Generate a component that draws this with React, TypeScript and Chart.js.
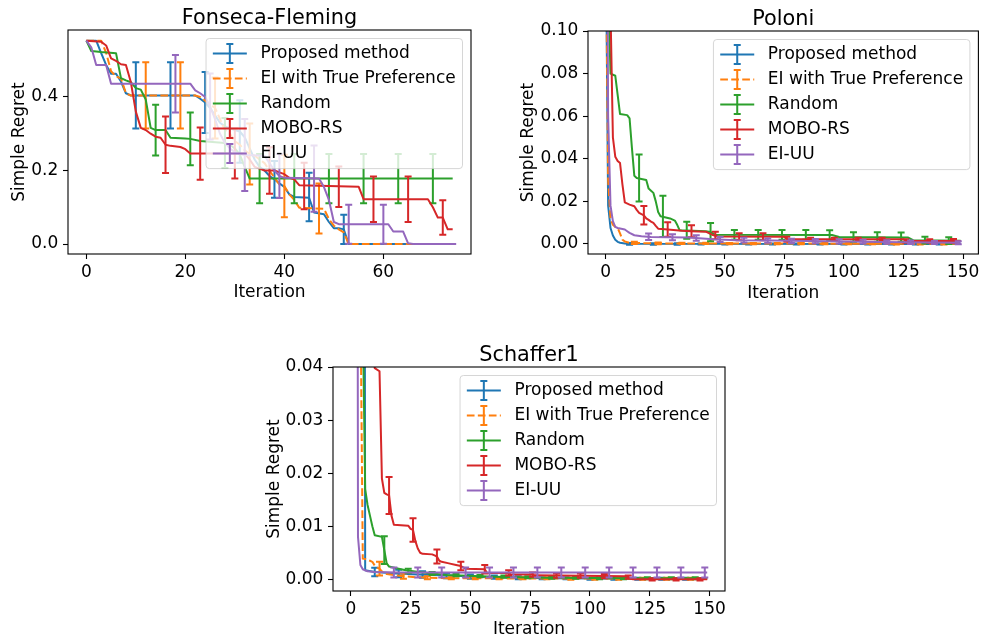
import React, { useEffect, useRef } from "react";
import { Chart, registerables } from "chart.js";

Chart.register(...registerables);

type Pt = [number, number];
type Eb = [number, number, number];

// ---------------- shared ----------------
const SERIES_NAMES = ["Proposed method", "EI with True Preference", "Random", "MOBO-RS", "EI-UU"];
const SERIES_COLORS = ["#1f77b4", "#ff7f0e", "#2ca02c", "#d62728", "#9467bd"];
const SERIES_DASHED = [false, true, false, false, false];
const X_LABEL = "Iteration";
const Y_LABEL = "Simple Regret";

// ---------------- Fonseca-Fleming ----------------
const FF_TITLE = "Fonseca-Fleming";
const FF_X_TICKS = [0, 20, 40, 60];
const FF_Y_TICKS = [0, 0.2, 0.4];
const FF_PROPOSED: Pt[] = [[0,0.553],[2,0.553],[3,0.519],[4,0.487],[5,0.463],[6,0.463],[7,0.442],[8,0.41],[9,0.404],[22,0.404],[23,0.395],[24,0.385],[25,0.37],[26,0.35],[27,0.33],[28,0.32],[30,0.31],[31,0.306],[32,0.29],[33,0.26],[34,0.23],[35,0.21],[36,0.2],[37,0.185],[38,0.176],[39,0.165],[40,0.155],[41,0.135],[42,0.128],[45,0.126],[46,0.086],[48,0.081],[49,0.06],[50,0.043],[51,0.043],[52,0.04],[53,0],[74,0]];
const FF_EI_TRUE: Pt[] = [[0,0.553],[3,0.553],[4,0.52],[5,0.47],[6,0.456],[7,0.45],[8,0.41],[9,0.404],[22,0.404],[23,0.4],[24,0.39],[25,0.38],[26,0.37],[27,0.34],[28,0.31],[29,0.3],[30,0.28],[31,0.27],[32,0.255],[33,0.245],[34,0.24],[35,0.23],[36,0.22],[37,0.2],[38,0.18],[39,0.162],[40,0.158],[41,0.135],[42,0.12],[43,0.099],[48,0.096],[49,0.068],[50,0.05],[51,0.04],[52,0.032],[53,0],[74,0]];
const FF_RANDOM: Pt[] = [[0,0.553],[1,0.525],[3,0.522],[6,0.519],[7,0.451],[8,0.445],[9,0.44],[10,0.424],[11,0.42],[12,0.393],[13,0.316],[14,0.31],[16,0.31],[17,0.289],[20,0.287],[21,0.286],[23,0.28],[28,0.275],[29,0.27],[30,0.26],[31,0.243],[32,0.21],[33,0.178],[74,0.178]];
const FF_MOBO: Pt[] = [[0,0.553],[3,0.55],[4,0.54],[5,0.505],[6,0.498],[7,0.489],[8,0.487],[9,0.44],[10,0.36],[11,0.316],[12,0.31],[13,0.3],[14,0.292],[15,0.289],[16,0.27],[17,0.267],[19,0.264],[20,0.258],[21,0.246],[32,0.246],[33,0.23],[34,0.21],[35,0.205],[36,0.2],[38,0.2],[39,0.195],[40,0.19],[41,0.18],[42,0.176],[43,0.16],[55,0.156],[56,0.122],[69,0.122],[70,0.1],[71,0.072],[72,0.072],[73,0.04],[74,0.04]];
const FF_EIUU: Pt[] = [[0,0.553],[1,0.535],[2,0.487],[4,0.487],[5,0.436],[21,0.436],[22,0.418],[23,0.41],[24,0.4],[25,0.374],[26,0.34],[27,0.3],[28,0.275],[29,0.26],[30,0.25],[31,0.245],[32,0.242],[36,0.24],[37,0.22],[38,0.2],[39,0.185],[40,0.18],[47,0.178],[48,0.155],[49,0.12],[50,0.06],[51,0.054],[61,0.054],[62,0.034],[64,0.034],[65,0.002],[66,0],[74,0]];
const FF_ERR_PROPOSED: Eb[] = [[10,0.404,0.09],[17,0.404,0.09],[24,0.385,0.083],[31,0.306,0.085],[38,0.176,0.05],[45,0.128,0.066],[52,0.04,0.04],[59,0,0],[66,0,0],[73,0,0]];
const FF_ERR_EI_TRUE: Eb[] = [[12,0.404,0.09],[19,0.404,0.09],[26,0.37,0.083],[33,0.245,0.083],[40,0.158,0.085],[47,0.097,0.068],[54,0,0],[61,0,0],[68,0,0]];
const FF_ERR_RANDOM: Eb[] = [[14,0.31,0.069],[21,0.286,0.072],[28,0.275,0.068],[35,0.178,0.067],[42,0.178,0.067],[49,0.178,0.067],[56,0.178,0.067],[63,0.178,0.067],[70,0.178,0.067]];
const FF_ERR_MOBO: Eb[] = [[16,0.27,0.077],[23,0.246,0.071],[30,0.246,0.068],[37,0.2,0.063],[44,0.158,0.063],[51,0.156,0.055],[58,0.122,0.062],[65,0.122,0.062],[72,0.072,0.047]];
const FF_ERR_EIUU: Eb[] = [[18,0.436,0.078],[25,0.374,0.09],[32,0.242,0.098],[39,0.185,0.06],[46,0.178,0.09],[53,0.054,0.053],[60,0.054,0.053],[67,0,0],[74,0,0]];

// ---------------- Poloni ----------------
const PO_TITLE = "Poloni";
const PO_X_TICKS = [0, 25, 50, 75, 100, 125, 150];
const PO_Y_TICKS = [0, 0.02, 0.04, 0.06, 0.08, 0.1];
const PO_PROPOSED: Pt[] = [[0,0.15],[1,0.018],[2,0.0075],[3,0.004],[4,0.002],[5,0.001],[6,0.0006],[8,0.0002],[10,0.0001],[149,0]];
const PO_EI_TRUE: Pt[] = [[0,0.15],[1,0.03],[2,0.012],[3,0.009],[4,0.008],[5,0.0075],[6,0.005],[7,0.002],[8,0.0012],[10,0.0005],[20,0.0003],[60,0.0002],[149,0.0001]];
const PO_RANDOM: Pt[] = [[0,0.3],[1,0.12],[2,0.08],[4,0.079],[5,0.07],[6,0.061],[9,0.0605],[10,0.059],[11,0.045],[12,0.032],[13,0.031],[17,0.03],[18,0.026],[19,0.025],[20,0.024],[21,0.02],[22,0.015],[23,0.013],[27,0.012],[29,0.011],[30,0.009],[31,0.0065],[42,0.006],[44,0.0056],[46,0.0043],[95,0.0042],[98,0.0033],[127,0.003],[129,0.0018],[149,0.0015]];
const PO_MOBO: Pt[] = [[0,0.4],[1,0.2],[2,0.11],[3,0.05],[4,0.041],[5,0.039],[6,0.038],[7,0.028],[8,0.0195],[10,0.0185],[12,0.0177],[13,0.016],[14,0.0146],[15,0.014],[16,0.0135],[17,0.012],[18,0.0113],[19,0.0105],[20,0.0099],[21,0.0085],[22,0.0072],[26,0.0068],[32,0.0062],[36,0.006],[42,0.0058],[45,0.0042],[47,0.0035],[75,0.0034],[76,0.0022],[125,0.0022],[126,0.0014],[149,0.0014]];
const PO_EIUU: Pt[] = [[0,0.3],[1,0.06],[2,0.018],[3,0.0107],[4,0.008],[5,0.0075],[8,0.0068],[9,0.006],[10,0.0052],[12,0.0041],[15,0.0036],[19,0.0033],[26,0.0032],[35,0.003],[45,0.0022],[55,0.0018],[70,0.0016],[100,0.0012],[125,0.0008],[149,0.0006]];
const PO_ERR_PROPOSED: Eb[] = [[10,0.0001,0.0004],[20,0,0.0003],[30,0,0.0003],[40,0,0.0002],[50,0,0.0002],[60,0,0.0002],[70,0,0.0002],[80,0,0.0002],[90,0,0.0002],[100,0,0.0002],[110,0,0.0002],[120,0,0.0002],[130,0,0.0002],[140,0,0.0002]];
const PO_ERR_EI_TRUE: Eb[] = [[12,0.0005,0.0005],[22,0.0003,0.0004],[32,0.0003,0.0003],[42,0.0003,0.0003],[52,0.0002,0.0003],[62,0.0002,0.0003],[72,0.0002,0.0003],[82,0.0002,0.0003],[92,0.0002,0.0003],[102,0.0002,0.0003],[112,0.0002,0.0003],[122,0.0001,0.0003],[132,0.0001,0.0003],[142,0.0001,0.0003]];
const PO_ERR_RANDOM: Eb[] = [[14,0.031,0.011],[24,0.013,0.0097],[34,0.0065,0.004],[44,0.0056,0.0043],[54,0.0043,0.0023],[64,0.0043,0.0023],[74,0.0043,0.0023],[84,0.0043,0.0023],[94,0.0042,0.0023],[104,0.0033,0.0022],[114,0.0033,0.0022],[124,0.0032,0.0022],[134,0.0018,0.0016],[144,0.0016,0.0016]];
const PO_ERR_MOBO: Eb[] = [[16,0.0135,0.0043],[26,0.0068,0.0034],[36,0.006,0.0028],[46,0.004,0.0018],[56,0.0034,0.0016],[66,0.0034,0.0016],[76,0.0022,0.0012],[86,0.0022,0.0007],[96,0.0022,0.0007],[106,0.0022,0.0007],[116,0.0022,0.0007],[126,0.0014,0.0008],[136,0.0014,0.0008],[146,0.0014,0.0009]];
const PO_ERR_EIUU: Eb[] = [[18,0.0034,0.0015],[28,0.0032,0.0014],[38,0.0028,0.0013],[48,0.0021,0.0012],[58,0.0018,0.0011],[68,0.0016,0.001],[78,0.0015,0.001],[88,0.0014,0.001],[98,0.0012,0.001],[108,0.0011,0.0009],[118,0.0009,0.0008],[128,0.0008,0.0008],[138,0.0007,0.0007],[148,0.0006,0.0007]];

// ---------------- Schaffer1 ----------------
const SC_TITLE = "Schaffer1";
const SC_X_TICKS = [0, 25, 50, 75, 100, 125, 150];
const SC_Y_TICKS = [0, 0.01, 0.02, 0.03, 0.04];
const SC_PROPOSED: Pt[] = [[0,0.5],[5,0.35],[6,0.0017],[10,0.0014],[19,0.0011],[28,0.0009],[40,0.0007],[60,0.0004],[83,0.0002],[120,0.0001],[149,0.0001]];
const SC_EI_TRUE: Pt[] = [[0,0.5],[3,0.3],[4,0.055],[5,0.0039],[7,0.0037],[8,0.0035],[9,0.0033],[10,0.0026],[11,0.0022],[12,0.002],[13,0.0015],[15,0.001],[19,0.00075],[27,0.0004],[40,0.0002],[149,0.0001]];
const SC_RANDOM: Pt[] = [[0,0.5],[4,0.3],[5,0.05],[6,0.017],[7,0.014],[8,0.012],[9,0.01],[10,0.0083],[13,0.008],[14,0.0055],[15,0.003],[16,0.0024],[20,0.002],[23,0.0017],[30,0.0013],[40,0.0008],[60,0.0005],[80,0.0003],[120,0.0002],[149,0.0002]];
const SC_MOBO: Pt[] = [[0,0.5],[8,0.06],[9,0.045],[10,0.0398],[12,0.0392],[13,0.019],[14,0.0163],[15,0.016],[16,0.0158],[17,0.012],[18,0.0103],[24,0.0101],[25,0.0095],[26,0.0093],[27,0.0072],[28,0.0058],[29,0.005],[30,0.0048],[34,0.0047],[35,0.0045],[36,0.0043],[37,0.0035],[38,0.0033],[41,0.003],[44,0.0027],[46,0.0025],[48,0.002],[56,0.0019],[57,0.0012],[66,0.0012],[67,0.0009],[76,0.0009],[77,0.00075],[115,0.0006],[117,0.0002],[118,0],[149,0]];
const SC_EIUU: Pt[] = [[0,0.5],[2,0.35],[3,0.008],[4,0.0027],[5,0.0019],[7,0.0015],[10,0.0014],[20,0.0013],[149,0.0013]];
const SC_ERR_PROPOSED: Eb[] = [[10,0.0014,0.0008],[20,0.0011,0.0007],[30,0.0009,0.0006],[40,0.0007,0.0005],[50,0.0005,0.0004],[60,0.0004,0.0003],[70,0.0003,0.0003],[80,0.0002,0.0002],[90,0.0002,0.0002],[100,0.0001,0.0002],[110,0.0001,0.0002],[120,0.0001,0.0002],[130,0.0001,0.0002],[140,0.0001,0.0002]];
const SC_ERR_EI_TRUE: Eb[] = [[12,0.002,0.0013],[22,0.0006,0.0005],[32,0.0003,0.0003],[42,0.0002,0.0002],[52,0.0002,0.0002],[62,0.0002,0.0002],[72,0.0002,0.0002],[82,0.0002,0.0002],[92,0.0001,0.0002],[102,0.0001,0.0002],[112,0.0001,0.0002],[122,0.0001,0.0002],[132,0.0001,0.0002],[142,0.0001,0.0002]];
const SC_ERR_RANDOM: Eb[] = [[14,0.0055,0.0026],[24,0.0016,0.0004],[34,0.0011,0.0003],[44,0.0008,0.0002],[54,0.0006,0.0002],[64,0.0005,0.0002],[74,0.0004,0.0002],[84,0.0003,0.0002],[94,0.0003,0.0002],[104,0.0002,0.0002],[114,0.0002,0.0002],[124,0.0002,0.0002],[134,0.0002,0.0002],[144,0.0002,0.0002]];
const SC_ERR_MOBO: Eb[] = [[16,0.0158,0.0035],[26,0.0093,0.0022],[36,0.0043,0.0013],[46,0.0025,0.0008],[56,0.0019,0.0008],[66,0.0012,0.0005],[76,0.0009,0.0004],[86,0.0007,0.0004],[96,0.0007,0.0004],[106,0.0006,0.0004],[116,0.0004,0.0003],[126,0,0.0002],[136,0,0.0002],[146,0,0.0002]];
const SC_ERR_EIUU: Eb[] = [[18,0.0013,0.00094],[28,0.0013,0.00094],[38,0.0013,0.00094],[48,0.0013,0.00094],[58,0.0013,0.00094],[68,0.0013,0.00094],[78,0.0013,0.00094],[88,0.0013,0.00094],[98,0.0013,0.00094],[108,0.0013,0.00094],[118,0.0013,0.00094],[128,0.0013,0.00094],[138,0.0013,0.00094],[148,0.0013,0.00094]];

// ---------------- layout ----------------
const FONT = "'DejaVu Sans', sans-serif";
const FS = 17;
const TITLE_FS = 20.8;

type Cfg = {
  title: string;
  page: { x: number; y: number; w: number; h: number };
  area: { l: number; t: number; r: number; b: number };
  xMin: number; xMax: number; yMin: number; yMax: number;
  xTicks: number[]; yTicks: number[]; yDec: number;
  series: Pt[][]; errs: Eb[][];
  xTitlePad: number; yTitlePad: number;
};

const CHARTS: Cfg[] = [
  {
    title: FF_TITLE,
    page: { x: 0, y: 0, w: 490, h: 310 },
    area: { l: 68, t: 30, r: 471, b: 254 },
    xMin: -3.7, xMax: 77.7, yMin: -0.027, yMax: 0.582,
    xTicks: FF_X_TICKS, yTicks: FF_Y_TICKS, yDec: 1,
    series: [FF_PROPOSED, FF_EI_TRUE, FF_RANDOM, FF_MOBO, FF_EIUU],
    errs: [FF_ERR_PROPOSED, FF_ERR_EI_TRUE, FF_ERR_RANDOM, FF_ERR_MOBO, FF_ERR_EIUU],
    xTitlePad: 6.8, yTitlePad: 9.3,
  },
  {
    title: PO_TITLE,
    page: { x: 490, y: 0, w: 494, h: 310 },
    area: { l: 98, t: 31, r: 488.4, b: 254 },
    xMin: -7.45, xMax: 156.45, yMin: -0.0047, yMax: 0.1,
    xTicks: PO_X_TICKS, yTicks: PO_Y_TICKS, yDec: 2,
    series: [PO_PROPOSED, PO_EI_TRUE, PO_RANDOM, PO_MOBO, PO_EIUU],
    errs: [PO_ERR_PROPOSED, PO_ERR_EI_TRUE, PO_ERR_RANDOM, PO_ERR_MOBO, PO_ERR_EIUU],
    xTitlePad: 5.8, yTitlePad: 28.8,
  },
  {
    title: SC_TITLE,
    page: { x: 250, y: 320, w: 490, h: 319 },
    area: { l: 83, t: 47, r: 475, b: 271 },
    xMin: -7.45, xMax: 156.45, yMin: -0.0022, yMax: 0.04,
    xTitlePad: -1.2, yTitlePad: 14.8,
    xTicks: SC_X_TICKS, yTicks: SC_Y_TICKS, yDec: 2,
    series: [SC_PROPOSED, SC_EI_TRUE, SC_RANDOM, SC_MOBO, SC_EIUU],
    errs: [SC_ERR_PROPOSED, SC_ERR_EI_TRUE, SC_ERR_RANDOM, SC_ERR_MOBO, SC_ERR_EIUU],
  },
];

const DASH = [7.7, 3.3];
const CAP = 3.5;

function roundRect(ctx: CanvasRenderingContext2D, x: number, y: number, w: number, h: number, r: number) {
  ctx.beginPath();
  ctx.moveTo(x + r, y);
  ctx.lineTo(x + w - r, y);
  ctx.arcTo(x + w, y, x + w, y + r, r);
  ctx.lineTo(x + w, y + h - r);
  ctx.arcTo(x + w, y + h, x + w - r, y + h, r);
  ctx.lineTo(x + r, y + h);
  ctx.arcTo(x, y + h, x, y + h - r, r);
  ctx.lineTo(x, y + r);
  ctx.arcTo(x, y, x + r, y, r);
  ctx.closePath();
}

function makePlugin(cfg: Cfg) {
  return {
    id: "mplLook",
    afterDatasetDraw(chart: any, args: any) {
      const errs = cfg.errs[args.index];
      if (!errs) return;
      const ctx: CanvasRenderingContext2D = chart.ctx;
      const a = chart.chartArea;
      const xs = chart.scales.x;
      const ys = chart.scales.y;
      ctx.save();
      ctx.beginPath();
      ctx.rect(a.left, a.top, a.right - a.left, a.bottom - a.top);
      ctx.clip();
      ctx.strokeStyle = SERIES_COLORS[args.index];
      ctx.lineWidth = 2;
      ctx.setLineDash([]);
      for (const [x, c, e] of errs) {
        const px = xs.getPixelForValue(x);
        const y1 = ys.getPixelForValue(c + e);
        const y2 = ys.getPixelForValue(c - e);
        ctx.beginPath();
        ctx.moveTo(px, y1);
        ctx.lineTo(px, y2);
        ctx.moveTo(px - CAP, y1);
        ctx.lineTo(px + CAP, y1);
        ctx.moveTo(px - CAP, y2);
        ctx.lineTo(px + CAP, y2);
        ctx.stroke();
      }
      ctx.restore();
    },
    afterDraw(chart: any) {
      const ctx: CanvasRenderingContext2D = chart.ctx;
      const a = chart.chartArea;
      ctx.save();
      // spines
      ctx.strokeStyle = "#000";
      ctx.lineWidth = 1.1;
      ctx.setLineDash([]);
      ctx.strokeRect(a.left, a.top, a.right - a.left, a.bottom - a.top);

      // legend
      ctx.font = `${FS}px ${FONT}`;
      const maxW = Math.max(...SERIES_NAMES.map((n) => ctx.measureText(n).width));
      const pad = 0.4 * FS, hl = 2 * FS, htp = 0.8 * FS, ls = 0.5 * FS, rowH = 16.5, bap = 0.5 * FS;
      const w = pad * 2 + hl + htp + maxW;
      const h = pad * 2 + SERIES_NAMES.length * rowH + (SERIES_NAMES.length - 1) * ls;
      const x0 = a.right - bap - w;
      const y0 = a.top + bap;
      roundRect(ctx, x0, y0, w, h, 0.2 * FS);
      ctx.fillStyle = "rgba(255,255,255,0.8)";
      ctx.fill();
      ctx.strokeStyle = "rgba(204,204,204,0.8)";
      ctx.lineWidth = 1;
      ctx.stroke();
      SERIES_NAMES.forEach((name, i) => {
        const cy = y0 + pad + rowH / 2 + i * (rowH + ls);
        const hx0 = x0 + pad;
        const hx1 = hx0 + hl;
        const hc = (hx0 + hx1) / 2;
        ctx.strokeStyle = SERIES_COLORS[i];
        ctx.lineWidth = 2;
        ctx.setLineDash(SERIES_DASHED[i] ? DASH : []);
        ctx.beginPath();
        ctx.moveTo(hx0, cy);
        ctx.lineTo(hx1, cy);
        ctx.stroke();
        ctx.setLineDash([]);
        ctx.beginPath();
        ctx.moveTo(hc, cy - 9.5);
        ctx.lineTo(hc, cy + 9.5);
        ctx.moveTo(hc - CAP, cy - 9.5);
        ctx.lineTo(hc + CAP, cy - 9.5);
        ctx.moveTo(hc - CAP, cy + 9.5);
        ctx.lineTo(hc + CAP, cy + 9.5);
        ctx.stroke();
        ctx.fillStyle = "#000";
        ctx.textAlign = "left";
        ctx.textBaseline = "middle";
        ctx.fillText(name, hx1 + htp, cy);
      });

      // title
      ctx.font = `${TITLE_FS}px ${FONT}`;
      ctx.fillStyle = "#000";
      ctx.textAlign = "center";
      ctx.textBaseline = "alphabetic";
      ctx.fillText(cfg.title, (a.left + a.right) / 2, a.top - 6);
      ctx.restore();
    },
  };
}

function Subplot({ cfg }: { cfg: Cfg }) {
  const ref = useRef<HTMLCanvasElement | null>(null);
  useEffect(() => {
    const canvas = ref.current;
    if (!canvas) return;
    const { page, area } = cfg;
    const yW = area.l;
    const xH = page.h - area.b;
    const tickFont = { family: FONT, size: FS };
    const chart = new Chart(canvas, {
      type: "line",
      data: {
        datasets: cfg.series.map((pts, i) => ({
          label: SERIES_NAMES[i],
          data: pts.map(([x, y]) => ({ x, y })),
          borderColor: SERIES_COLORS[i],
          backgroundColor: SERIES_COLORS[i],
          borderWidth: 2,
          borderDash: SERIES_DASHED[i] ? DASH : [],
          borderJoinStyle: "round",
          pointRadius: 0,
          tension: 0,
          fill: false,
          clip: 0,
          order: SERIES_NAMES.length - i,
        })),
      },
      options: {
        animation: false,
        responsive: false,
        devicePixelRatio: 1,
        events: [],
        layout: { padding: { left: 0, top: area.t, right: page.w - area.r, bottom: 0 } },
        plugins: { legend: { display: false }, tooltip: { enabled: false }, title: { display: false } },
        scales: {
          x: {
            type: "linear",
            min: cfg.xMin,
            max: cfg.xMax,
            afterFit: (s: any) => { s.height = xH; },
            afterBuildTicks: (s: any) => { s.ticks = cfg.xTicks.map((v) => ({ value: v })); },
            grid: { drawOnChartArea: false, drawTicks: true, tickLength: 5, tickWidth: 1.1, tickColor: "#000" },
            border: { display: false },
            ticks: {
              color: "#000", font: tickFont, padding: 3, maxRotation: 0, autoSkip: false,
              callback: (v: any) => String(Math.round(Number(v))),
            },
            title: { display: true, text: X_LABEL, color: "#000", font: tickFont, padding: { top: 0, bottom: cfg.xTitlePad } },
          },
          y: {
            type: "linear",
            min: cfg.yMin,
            max: cfg.yMax,
            afterFit: (s: any) => { s.width = yW; },
            afterBuildTicks: (s: any) => { s.ticks = cfg.yTicks.map((v) => ({ value: v })); },
            grid: { drawOnChartArea: false, drawTicks: true, tickLength: 5, tickWidth: 1.1, tickColor: "#000" },
            border: { display: false },
            ticks: {
              color: "#000", font: tickFont, padding: 4.7, autoSkip: false,
              callback: (v: any) => Number(v).toFixed(cfg.yDec),
            },
            title: { display: true, text: Y_LABEL, color: "#000", font: tickFont, padding: { top: cfg.yTitlePad, bottom: 0 } },
          },
        },
      } as any,
      plugins: [makePlugin(cfg) as any],
    });
    return () => chart.destroy();
  }, [cfg]);
  return (
    <canvas
      ref={ref}
      width={cfg.page.w}
      height={cfg.page.h}
      style={{ position: "absolute", left: cfg.page.x, top: cfg.page.y, width: cfg.page.w, height: cfg.page.h }}
    />
  );
}

export default function App() {
  return (
    <div style={{ position: "fixed", left: 0, top: 0, width: 984, height: 639, background: "#fff", overflow: "hidden" }}>
      {CHARTS.map((c) => (
        <Subplot key={c.title} cfg={c} />
      ))}
    </div>
  );
}
